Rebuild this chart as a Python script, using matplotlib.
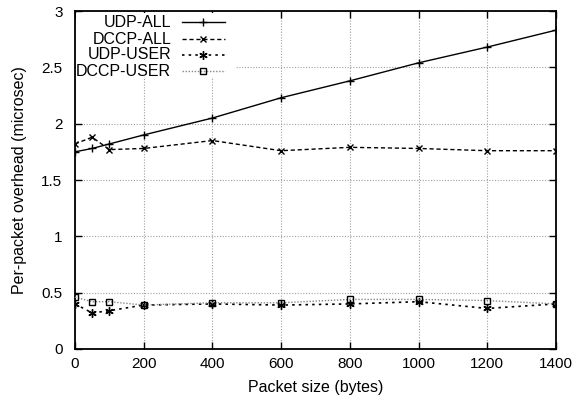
import matplotlib
matplotlib.use("Agg")
import matplotlib.pyplot as plt
from matplotlib.patches import Rectangle

plt.rcParams['font.family'] = ['Liberation Sans', 'DejaVu Sans']

sizes = [0, 50, 100, 200, 400, 600, 800, 1000, 1200, 1400]
udp_all = [1.75, 1.78, 1.82, 1.90, 2.05, 2.23, 2.38, 2.54, 2.68, 2.83]
dccp_all = [1.82, 1.88, 1.77, 1.78, 1.85, 1.76, 1.79, 1.78, 1.76, 1.76]
udp_user = [0.40, 0.32, 0.34, 0.39, 0.40, 0.39, 0.40, 0.42, 0.36, 0.40]
dccp_user = [0.46, 0.42, 0.42, 0.39, 0.41, 0.41, 0.44, 0.44, 0.43, 0.40]

names = ["UDP-ALL", "DCCP-ALL", "UDP-USER", "DCCP-USER"]
styles = [
    dict(color="black", ls="-", marker="+", ms=6, lw=1.0),
    dict(color="black", ls=(0, (3, 2)), marker="x", ms=4, lw=1.0),
    dict(color="black", ls=(0, (1.5, 2.5)), marker=(6, 2, 0), ms=6, lw=1.2),
    dict(color="#888888", ls=(0, (1, 1.2)), marker="s", ms=5, lw=1.0,
         mfc="none", mec="black"),
]
series = [udp_all, dccp_all, udp_user, dccp_user]

fig = plt.figure(figsize=(5.74, 4.0), dpi=100)
ax = fig.add_axes([75 / 574, 1 - 349 / 400, 481 / 574, 338 / 400])

for ys, st in zip(series, styles):
    ax.plot(sizes, ys, zorder=3, **st)

ax.set_xlim(0, 1400)
ax.set_ylim(0, 3)
ax.set_xticks([0, 200, 400, 600, 800, 1000, 1200, 1400])
ax.set_yticks([0, 0.5, 1, 1.5, 2, 2.5, 3])
ax.set_yticklabels(["0", "0.5", "1", "1.5", "2", "2.5", "3"])
ax.tick_params(direction="in", top=True, right=True, labelsize=11,
               length=5, width=1)
ax.tick_params(axis="y", pad=9)
ax.tick_params(axis="x", pad=6)
ax.grid(True, color="#a0a0a0", ls=(0, (1, 1.5)), lw=0.8)
for sp in ax.spines.values():
    sp.set_linewidth(1.3)
ax.set_xlabel("Packet size (bytes)", fontsize=11.5, labelpad=6)
ax.set_ylabel("Per-packet overhead (microsec)", fontsize=11.5, labelpad=10)

# gnuplot style key: white box over grid, text right-aligned, sample to the right
ax.add_patch(Rectangle((0.003, 0.805), 0.33, 0.19, transform=ax.transAxes,
                       facecolor="white", edgecolor="none", zorder=2))
rows = [0.967, 0.917, 0.870, 0.822]
for name, st, yy in zip(names, styles, rows):
    ax.text(0.20, yy, name, transform=ax.transAxes, ha="right", va="center",
            fontsize=11.5, zorder=4)
    ax.plot([0.222, 0.312], [yy, yy], transform=ax.transAxes, zorder=4,
            markevery=[], **st)
    ax.plot([0.267], [yy], transform=ax.transAxes, zorder=4,
            **{**st, "ls": "none"})

fig.savefig("out.png", dpi=100)
